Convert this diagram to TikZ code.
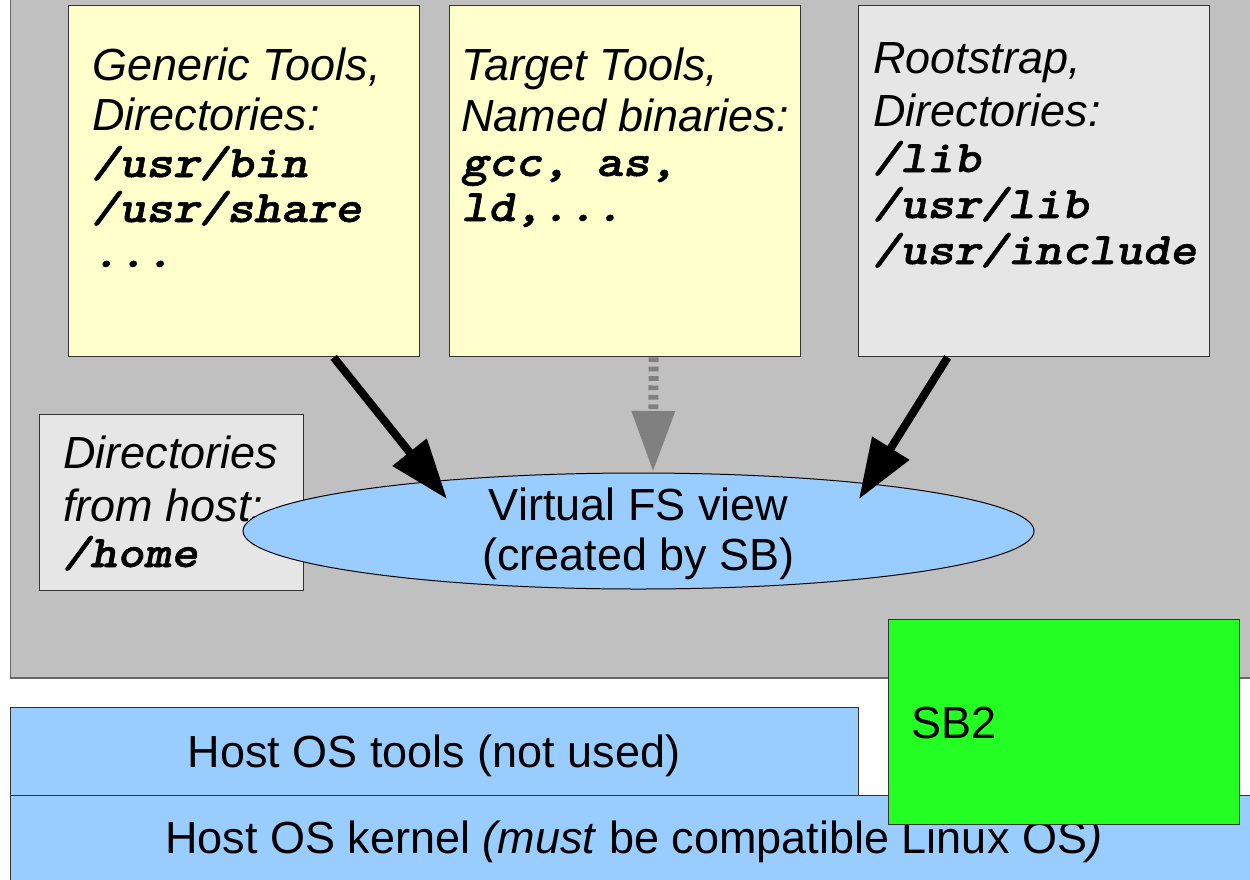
\documentclass[tikz,border=0pt]{standalone}
\usepackage{fontspec}
\setmainfont{Liberation Sans}
\newfontfamily\slabmono{lmmonolt10-boldoblique}[Extension=.otf, FakeStretch=1.14, FakeBold=1.2]
\usetikzlibrary{arrows.meta,shapes.geometric}

\definecolor{panelgray}{HTML}{C0C0C0}
\definecolor{noteyellow}{HTML}{FFFFCC}
\definecolor{lightgray}{HTML}{E6E6E6}
\definecolor{skyblue}{HTML}{99CCFF}
\definecolor{sbgreen}{HTML}{23FF23}
\definecolor{edgegray}{HTML}{333333}
\definecolor{arrowgray}{HTML}{808080}

% path names in bold oblique typewriter
\newcommand\pathtt{\fontsize{45}{45}\selectfont\slabmono}

\begin{document}
\begin{tikzpicture}[x=1pt,y=-1pt,
  panel/.style={draw=black!60, line width=1.5pt, fill=panelgray, inner sep=0pt, anchor=north west},
  box/.style={draw=edgegray, line width=1.3pt, inner sep=0pt, anchor=north west},
  txt/.style={inner sep=0pt, font=\fontsize{45}{45}\selectfont},
  ltxt/.style={txt, anchor=base west},
  feed/.style={line width=8pt, -{Triangle[length=60pt,width=42pt]}},
  optfeed/.style={line width=10pt, arrowgray, dash pattern=on 4.7pt off 4.7pt,
                  -{Triangle[length=61pt,width=41pt]}}
]
\useasboundingbox (0,0) rectangle (1250,879);
\clip (0,0) rectangle (1250,879);

% sandbox area
\node[panel, minimum width=1280pt, minimum height=707pt] (area) at (9.5,-30) {};

% source trees
\node[box, fill=noteyellow, minimum width=351pt, minimum height=351pt] (gen) at (68,5) {};
\node[ltxt] (gentxt) at (92,80) {\parbox[t]{320pt}{\raggedright\itshape
  Generic Tools,\\[5pt]
  Directories:\\[2pt]
  {\pathtt /usr/bin}\\
  {\pathtt /usr/share}\\
  {\pathtt ...}}};

\node[box, fill=noteyellow, minimum width=351pt, minimum height=351pt] (tgt) at (449,5) {};
\node[ltxt] (tgttxt) at (461,80) {\parbox[t]{335pt}{\raggedright\itshape
  Target Tools,\\[6pt]
  Named binaries:\\
  {\pathtt gcc, as,}\\
  {\pathtt ld,...}}};

\node[box, fill=lightgray, minimum width=351pt, minimum height=351pt] (root) at (858,5) {};
\node[ltxt] (roottxt) at (873,73) {\parbox[t]{335pt}{\raggedright\itshape
  Rootstrap,\\[8pt]
  Directories:\\[1pt]
  {\pathtt /lib}\\[1pt]
  {\pathtt /usr/lib}\\[1pt]
  {\pathtt /usr/include}}};

\node[box, fill=lightgray, minimum width=264pt, minimum height=176pt] (host) at (39,414) {};
\node[ltxt] (hosttxt) at (63,468) {\parbox[t]{250pt}{\raggedright\itshape
  Directories\\[8pt]
  from host:\\[1pt]
  {\pathtt /home}}};

% virtual file system view
\node[ellipse, draw=black, line width=1pt, fill=skyblue, inner sep=0pt,
      minimum width=791pt, minimum height=116pt] (vfs) at (638.5,531) {};
\node[txt, anchor=base] (vfs1) at (638.5,520) {Virtual FS view};
\node[txt, anchor=base] (vfs2) at (638.5,570) {(created by SB)};

% mappings into the view
\coordinate (tipL) at (447,499);
\coordinate (tipM) at (653,472);
\coordinate (tipR) at (859,499);
\draw[feed] ([xshift=89.5pt]gen.south) -- (tipL);
\draw[feed] ([xshift=-86.5pt]root.south) -- (tipR);
\draw[optfeed] ([xshift=28.5pt]tgt.south) -- (tipM);

% host layers
\node[box, fill=skyblue, minimum width=848pt, minimum height=88pt] (tools) at (10,707) {};
\node[txt, anchor=base] (toolstxt) at (434,767) {Host OS tools (not used)};

\node[box, fill=skyblue, minimum width=1260pt, minimum height=110pt] (kernel) at (10,795) {};
\node[ltxt] (kerneltxt) at (165,853) {Host OS kernel \textit{(must} be compatible Linux OS\textit{)}};

% scratchbox itself
\node[box, fill=sbgreen, minimum width=351pt, minimum height=205pt] (sb) at (888,619) {};
\node[ltxt] (sbtxt) at (911,738) {SB2};
\end{tikzpicture}
\end{document}
